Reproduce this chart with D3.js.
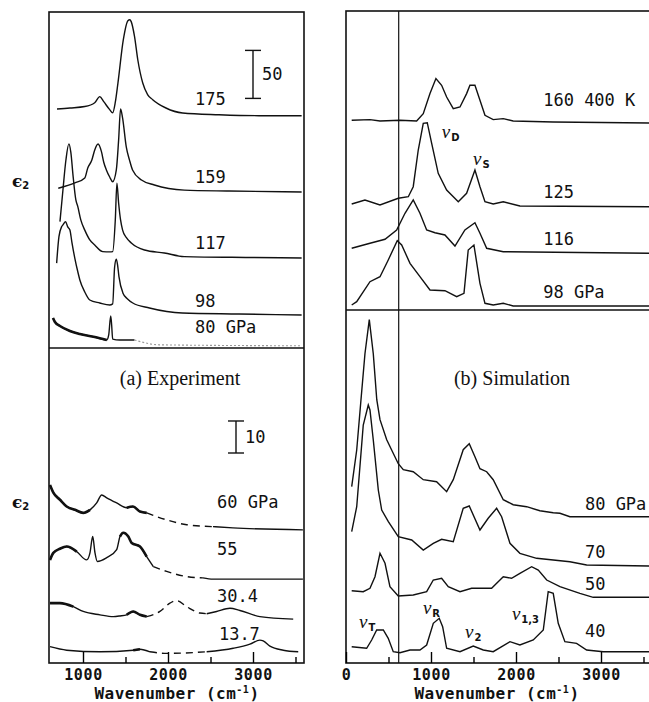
<!DOCTYPE html>
<html>
<head>
<meta charset="utf-8">
<script src="https://cdn.jsdelivr.net/npm/d3@7"></script>
<style>
  body { margin: 0; background: #fff; }
  svg { display: block; }
</style>
</head>
<body>
<script>
var width = 649,
  height = 702;

// ---------- (a) Experiment, upper part : [wavenumber, eps2 above baseline] ----------
var expTopNames = ["175", "159", "117", "98", "80 GPa"];
var expTopOffsets = [242, 162.5, 93.8, 34.4, 7.3];
var exp175 = [[694,7],[846,8],[1021,9.5],[1138,13.5],[1197,19.8],[1244,14.6],[1314,6.3],[1349,3],[1380,14],[1411,34],[1474,79],[1528,99],[1550,100],[1567,98],[1606,82.6],[1645,58],[1703,34],[1760,22],[1820,16.7],[1976,8],[2172,2.8],[2600,1],[3070,0],[3572,0]];
var exp159 = [[709,3.9],[904,9.4],[1021,14.6],[1056,25],[1103,33],[1138,43.8],[1177,50],[1217,42],[1244,31],[1275,23],[1314,15.6],[1349,10.7],[1392,23],[1419,54],[1442,86.5],[1466,77],[1509,47],[1548,33],[1583,23],[1688,12.5],[1840,7.3],[2191,2],[2718,1],[3572,0]];
var exp117 = [[729,37.8],[764,70.8],[799,102],[834,118.8],[857,110],[884,84.7],[916,60.4],[939,53.4],[974,39.6],[1021,29],[1080,18.8],[1138,13.5],[1232,6.6],[1314,6.3],[1349,6.6],[1380,39.6],[1399,77.8],[1419,57.3],[1442,39.6],[1466,29],[1513,20.8],[1568,15.6],[1723,8.3],[1957,5.2],[2191,1.4],[2952,0.5],[3572,0]];
var exp98 = [[690,54],[717,81.6],[749,92],[764,93.8],[795,97.2],[819,92],[846,88.5],[869,76],[904,59],[939,45],[963,36.5],[1021,24],[1080,15.6],[1197,12.5],[1314,10.4],[1349,11.5],[1372,50],[1392,58],[1407,52],[1423,40],[1469,23],[1524,16.7],[1586,12.5],[1782,7.3],[2168,2],[2835,1],[3572,0]];
var exp80 = [[647,24],[670,19.8],[729,15.6],[846,10.4],[963,7.3],[1138,4.2],[1279,1],[1302,6],[1326,26],[1337,16.7],[1349,2],[1431,1],[1606,1],[1900,-4],[3572,-5]];
var expTopCurves = [exp175, exp159, exp117, exp98, exp80];
var expTopFaint = [null, null, null, null, [1606, 3572]];
var expTopNoise = [[], [], [], [], [[640, 1290]]];

// ---------- (a) Experiment, lower part ----------
var expBotNames = ["60 GPa", "55", "30.4", "13.7"];
var expBotOffsets = [41.6, 26.2, 13.8, 3.4];
var exp60 = [[612,14],[651,11.6],[729,9.4],[808,7.3],[906,6.25],[1003,5.3],[1082,6.25],[1161,8.4],[1220,10.9],[1279,10],[1396,8.4],[1514,6.9],[1588,7.3],[1670,5.7],[1749,5.3],[1984,3.1],[2219,1.6],[2529,1],[2764,0.6],[3587,0]];
var exp55 = [[612,6],[651,8.2],[729,9.5],[808,10.2],[926,8.6],[1043,6],[1082,8.2],[1114,13.3],[1141,8.2],[1168,5.5],[1279,6.7],[1396,9.2],[1435,13.3],[1474,14.5],[1533,13.3],[1573,11.3],[1670,10.2],[1749,7],[1827,3.9],[1984,2.4],[2219,0.8],[2411,0.4],[2529,0],[3587,0]];
var exp30 = [[612,4.9],[729,4.9],[886,3.8],[1003,2.3],[1200,1.25],[1356,0.7],[1435,0.9],[1514,1.25],[1591,2.3],[1670,1.25],[1749,0.7],[1905,2.3],[2023,4.9],[2102,5.7],[2219,3.8],[2376,1.8],[2455,1.6],[2572,2.3],[2729,3.3],[2846,2.6],[3081,0.7],[3473,-0.1]];
var exp13 = [[612,1.7],[808,0.6],[1200,0.1],[1591,0.6],[1670,0.9],[1788,0.1],[1984,-0.4],[2455,0.1],[2767,1.2],[2964,2.5],[3081,3.75],[3120,3.5],[3199,1.9],[3356,0.6],[3532,0.1]];
var expBotCurves = [exp60, exp55, exp30, exp13];
var expBotDash = [[1749, 2529], [1827, 2411], [1749, 2455], [1788, 2455]];
var expBotNoise = [[[612, 1100], [1450, 1749]], [[612, 1000], [1400, 1760]], [[612, 900], [1500, 1750]], [[1400, 1700]]];

// ---------- (b) Simulation, upper part ----------
var simTopNames = ["160 400 K", "125", "116", "98 GPa"];
var simTopOffsets = [187, 103.3, 56.7, 4];
var sim160 = [[67,2.7],[282,3.4],[400,2],[635,2.7],[831,2],[909,9.4],[988,29.4],[1058,44.4],[1125,37.7],[1184,26],[1262,14.4],[1341,16],[1419,29.4],[1458,37.7],[1517,37.7],[1576,22.7],[1635,7.7],[1732,3.4],[1850,4.4],[1967,2],[2438,1],[3600,0]];
var sim125 = [[67,2.7],[223,6.7],[400,1.7],[615,8.4],[733,10],[791,20],[850,56.7],[909,83.4],[956,84],[1008,63.4],[1085,33.4],[1184,16.7],[1321,5],[1419,13.4],[1517,36.7],[1576,20],[1635,5],[1732,2.7],[1850,5],[2046,0.7],[3600,0]];
var sim116 = [[67,5],[282,10],[459,14],[596,23.3],[694,40],[791,53.3],[870,40],[949,23.3],[1047,20.6],[1164,18.3],[1282,7.3],[1399,23.3],[1517,30.6],[1576,20],[1655,5],[1850,1.6],[3600,0]];
var sim98 = [[67,1],[126,4.3],[282,24.3],[400,29.3],[497,46],[603,65.3],[655,61],[753,42.7],[870,29.3],[988,16],[1164,15.3],[1302,9.3],[1388,12.7],[1438,56],[1505,61],[1576,22.7],[1635,2.7],[1732,1],[1850,2.7],[1967,0],[3600,0]];
var simTopCurves = [sim160, sim125, sim116, sim98];

// ---------- (b) Simulation, lower part ----------
var simBotNames = ["80 GPa", "70", "50", "40"];
var simBotOffsets = [146.3, 97, 65.7, 11.3];
var sim80 = [[67,30],[126,66.7],[176,116.7],[223,163],[274,197],[321,163],[362,117],[400,97],[479,77],[615,53],[674,47],[791,45],[909,37],[1066,35],[1184,25],[1262,37],[1379,67],[1450,73],[1517,60],[1576,48],[1655,45],[1732,37],[1850,17],[1967,12],[2125,10],[2281,6],[2438,4],[2517,3.4],[2634,0],[3600,0]];
var sim70 = [[67,34.3],[126,59.3],[203,141],[262,161],[282,156],[321,126],[380,76],[420,56],[498,44.3],[615,29.3],[773,26],[909,16],[1027,22.7],[1125,26.7],[1262,24.3],[1379,57.7],[1450,60],[1576,36],[1673,47.7],[1772,57.7],[1831,49.3],[1929,22.7],[2046,12.7],[2243,7.7],[2634,4.3],[2831,1],[3600,0]];
var sim50 = [[67,6.6],[203,5.6],[282,9],[341,20.6],[400,44],[459,34],[517,10.6],[615,1.3],[791,2.3],[949,5.6],[1027,17.3],[1125,19],[1203,10.6],[1341,5.6],[1478,9],[1713,9],[1850,20.6],[1948,19],[2046,24],[2184,30.6],[2262,27.3],[2361,17.3],[2517,10.6],[2752,4],[2908,0],[3600,0]];
var sim40 = [[67,5],[243,3.4],[302,11.7],[361,21.7],[439,21.7],[497,13.4],[556,0],[635,-1],[753,1.7],[870,1.7],[949,6.7],[1027,28.4],[1097,33.4],[1137,25],[1184,3.4],[1341,0],[1497,5.7],[1615,1.7],[1732,0],[1929,10],[2046,6.7],[2203,11.7],[2321,21.7],[2379,60],[2438,58.4],[2497,28.4],[2575,10],[2713,8.4],[2831,1.7],[3026,0],[3600,0]];
var simBotCurves = [sim80, sim70, sim50, sim40];

// mode labels (b): [subscript, wavenumber, value]
var simTopModes = [["D", 1126, 172], ["S", 1494, 145]];
var simBotModes = [["T", 153, 35], ["R", 905, 49], ["2", 1400, 25], ["1,3", 1952, 43]];

// axis ticks
var expMajor = [1000, 2000, 3000], expMinor = [1500, 2500, 3500];
var simMajor = [0, 1000, 2000, 3000], simMinor = [500, 1500, 2500, 3500];
var simDivide = 620;

//Generate SVG
var svg = d3.select("body").append("svg")
  .attr("width", width)
  .attr("height", height);

var mono = "'DejaVu Sans Mono', monospace";

// Scales
var xExp = d3.scaleLinear().domain([600, 3600]).range([49, 304]);
var xSim = d3.scaleLinear().domain([0, 3600]).range([346, 652]);
var yExpTop = d3.scaleLinear().domain([0, 350]).range([348, 12]);
var yExpBot = d3.scaleLinear().domain([0, 98.4]).range([663, 348]);
var ySimTop = d3.scaleLinear().domain([0, 299]).range([310, 11]);
var ySimBot = d3.scaleLinear().domain([0, 353]).range([663, 310]);

function lineFor(x, y, off, curve) {
  return d3.line()
    .x(function(d) { return x(d[0]); })
    .y(function(d) { return y(d[1] + off); })
    .curve(curve);
}

function within(pts, a, b) {
  return pts.filter(function(d) { return d[0] >= a && d[0] <= b; });
}

function drawCurves(curves, offsets, x, y, curve, dash, faint, noise) {
  curves.forEach(function(pts, i) {
    var line = lineFor(x, y, offsets[i], curve);
    var gap = (dash && dash[i]) || (faint && faint[i]);
    if (gap) {
      [within(pts, -1e9, gap[0]), within(pts, gap[1], 1e9)].forEach(function(p) {
        if (p.length > 1) svg.append("path").attr("d", line(p))
          .attr("fill", "none").attr("stroke", "#111").attr("stroke-width", 1.4);
      });
      svg.append("path").attr("d", line(within(pts, gap[0], gap[1])))
        .attr("fill", "none")
        .attr("stroke", dash && dash[i] ? "#111" : "#9a9a9a")
        .attr("stroke-width", dash && dash[i] ? 1.4 : 1.1)
        .attr("stroke-dasharray", dash && dash[i] ? "7,5" : "2,2");
    } else {
      svg.append("path").attr("d", line(pts))
        .attr("fill", "none").attr("stroke", "#111").attr("stroke-width", 1.4);
    }
    if (noise) {
      noise[i].forEach(function(r) {
        svg.append("path").attr("d", line(within(pts, r[0], r[1])))
          .attr("fill", "none").attr("stroke", "#111").attr("stroke-width", 2.6)
          .attr("stroke-linejoin", "round");
      });
    }
  });
}

drawCurves(expTopCurves, expTopOffsets, xExp, yExpTop, d3.curveMonotoneX, null, expTopFaint, expTopNoise);
drawCurves(expBotCurves, expBotOffsets, xExp, yExpBot, d3.curveMonotoneX, expBotDash, null, expBotNoise);
drawCurves(simTopCurves, simTopOffsets, xSim, ySimTop, d3.curveLinear, null, null, null);
drawCurves(simBotCurves, simBotOffsets, xSim, ySimBot, d3.curveLinear, null, null, null);

// Frames
function frame(x0, x1, y0, y1) {
  svg.append("rect").attr("x", x0).attr("y", y0)
    .attr("width", x1 - x0).attr("height", y1 - y0)
    .attr("fill", "none").attr("stroke", "#111").attr("stroke-width", 1.6);
}
frame(xExp.range()[0], xExp.range()[1], yExpTop.range()[1], yExpBot.range()[0]);
frame(xSim.range()[0], xSim.range()[1], ySimTop.range()[1], ySimBot.range()[0]);
svg.append("line").attr("x1", xExp.range()[0]).attr("x2", xExp.range()[1])
  .attr("y1", yExpTop(0)).attr("y2", yExpTop(0)).attr("stroke", "#111").attr("stroke-width", 1.6);
svg.append("line").attr("x1", xSim.range()[0]).attr("x2", xSim.range()[1])
  .attr("y1", ySimTop(0)).attr("y2", ySimTop(0)).attr("stroke", "#111").attr("stroke-width", 1.6);
svg.append("line").attr("x1", xSim(simDivide)).attr("x2", xSim(simDivide))
  .attr("y1", ySimTop.range()[1]).attr("y2", ySimBot.range()[0]).attr("stroke", "#111").attr("stroke-width", 1.2);

// Axes (ticks point inwards)
function axis(x, major, minor) {
  var g = svg.append("g").attr("transform", "translate(0," + 663 + ")")
    .call(d3.axisBottom(x).tickValues(major).tickSize(-11).tickPadding(6).tickFormat(d3.format("d")))
    .attr("font-family", mono).attr("font-size", 15).attr("font-weight", "bold");
  g.select(".domain").remove();
  g.selectAll("line").attr("stroke-width", 1.4);
  g.selectAll("text").attr("fill", "#111").attr("letter-spacing", 0.6);
  var m = svg.append("g").attr("transform", "translate(0," + 663 + ")")
    .call(d3.axisBottom(x).tickValues(minor).tickSize(-6).tickFormat(""));
  m.select(".domain").remove();
  m.selectAll("line").attr("stroke-width", 1.4);
}
axis(xExp, expMajor, expMinor);
axis(xSim, simMajor, simMinor);

function xTitle(cx) {
  var t = svg.append("text").attr("x", cx).attr("y", 699)
    .attr("text-anchor", "middle").attr("font-family", mono)
    .attr("font-size", 16).attr("font-weight", "bold").attr("fill", "#111")
    .attr("letter-spacing", 0.5);
  t.append("tspan").text("Wavenumber (cm");
  t.append("tspan").attr("dy", -6).attr("font-size", 10).text("-1");
  t.append("tspan").attr("dy", 6).text(")");
}
xTitle(177);
xTitle(497);

// eps2 labels
function epsLabel(yb) {
  var t = svg.append("text").attr("x", 12).attr("y", yb)
    .attr("font-weight", "bold").attr("fill", "#111");
  t.append("tspan").attr("font-family", "'DejaVu Serif', serif").attr("font-size", 17).text("\u03f5");
  t.append("tspan").attr("font-family", "'DejaVu Sans', sans-serif").attr("font-size", 10).attr("dy", 2).text("2");
}
epsLabel(187);
epsLabel(508);

// Curve labels
function curveLabels(names, offsets, x, y, w, lifts) {
  names.forEach(function(n, i) {
    svg.append("text").attr("x", x(w[i])).attr("y", y(offsets[i]) - lifts[i])
      .attr("font-family", mono).attr("font-size", 17).attr("fill", "#111").text(n);
  });
}
curveLabels(expTopNames, expTopOffsets, xExp, yExpTop, [2317, 2317, 2317, 2317, 2317], [11, 9, 9, 8, 8]);
curveLabels(expBotNames, expBotOffsets, xExp, yExpBot, [2576, 2576, 2576, 2599], [22, 24, 17, 12]);
curveLabels(simTopNames, simTopOffsets, xSim, ySimTop, [2320, 2320, 2320, 2320], [17, 9, 8, 8]);
curveLabels(simBotNames, simBotOffsets, xSim, ySimBot, [2811, 2811, 2811, 2811], [7, 8, 7, 15]);

// Mode labels
function modeLabels(modes, y) {
  modes.forEach(function(m) {
    var t = svg.append("text").attr("x", xSim(m[1])).attr("y", y(m[2])).attr("fill", "#111");
    t.append("tspan").attr("font-family", "'Liberation Serif', serif").attr("font-style", "italic")
      .attr("font-size", 19).text("\u03bd");
    t.append("tspan").attr("font-family", "'DejaVu Sans', sans-serif").attr("font-weight", "bold")
      .attr("font-size", 10).attr("dy", 3).attr("dx", 1).text(m[0]);
  });
}
modeLabels(simTopModes, ySimTop);
modeLabels(simBotModes, ySimBot);

// Scale bars
function scaleBar(x, y, w, v0, v1, label) {
  var g = svg.append("g").attr("stroke", "#111").attr("stroke-width", 1.4);
  g.append("line").attr("x1", x(w)).attr("x2", x(w)).attr("y1", y(v0)).attr("y2", y(v1));
  g.append("line").attr("x1", x(w) - 8).attr("x2", x(w) + 8).attr("y1", y(v0)).attr("y2", y(v0));
  g.append("line").attr("x1", x(w) - 8).attr("x2", x(w) + 8).attr("y1", y(v1)).attr("y2", y(v1));
  svg.append("text").attr("x", x(w) + 9).attr("y", (y(v0) + y(v1)) / 2 + 6)
    .attr("font-family", mono).attr("font-size", 17).attr("fill", "#111").text(label);
}
scaleBar(xExp, yExpTop, 3000, 260, 310, "50");
scaleBar(xExp, yExpBot, 2800, 65.6, 75.6, "10");

// Panel titles
svg.append("text").attr("x", 180).attr("y", 385).attr("text-anchor", "middle")
  .attr("font-family", "'Liberation Serif', serif").attr("font-size", 20).attr("fill", "#111")
  .text("(a) Experiment");
svg.append("text").attr("x", 512).attr("y", 385).attr("text-anchor", "middle")
  .attr("font-family", "'Liberation Serif', serif").attr("font-size", 20).attr("fill", "#111")
  .text("(b) Simulation");
</script>
</body>
</html>
